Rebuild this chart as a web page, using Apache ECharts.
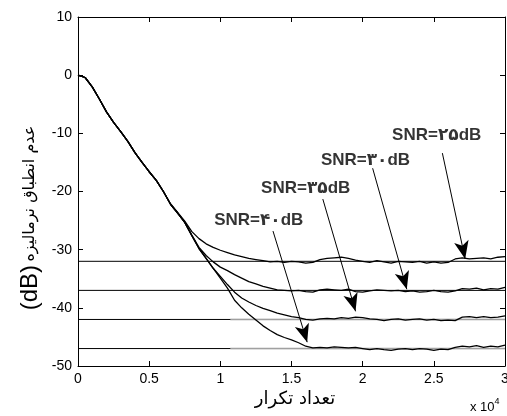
<!DOCTYPE html>
<html><head><meta charset="utf-8">
<script src="https://cdn.jsdelivr.net/npm/echarts@6/dist/echarts.min.js"></script>
<style>html,body{margin:0;padding:0;background:#fff}#c{width:507px;height:416px}</style>
</head><body><div id="c"></div>
<script>
// x values (×10^4 iterations)
const xs = [0,0.05,0.1,0.15,0.2,0.25,0.3,0.35,0.4,0.45,0.5,0.55,0.6,0.65,0.7,0.75,0.8,0.85,0.9,0.95,1.0,1.05,1.1,1.15,1.2,1.25,1.3,1.35,1.4,1.45,1.5,1.55,1.6,1.65,1.7,1.75,1.8,1.85,1.9,1.95,2.0,2.05,2.1,2.15,2.2,2.25,2.3,2.35,2.4,2.45,2.5,2.55,2.6,2.65,2.7,2.75,2.8,2.85,2.9,2.95,3.0];
const snr25 = [0,-0.4,-2.0,-4.1,-6.3,-8.1,-9.7,-11.4,-13.3,-15.0,-16.6,-18.1,-20.0,-22.1,-23.6,-25.1,-26.9,-28.1,-29.0,-29.6,-30.1,-30.5,-30.9,-31.2,-31.5,-31.7,-31.9,-32.1,-32.0,-32.2,-32.0,-32.1,-32.3,-32.2,-31.7,-31.5,-31.4,-31.3,-31.5,-31.8,-32.0,-32.2,-31.9,-32.1,-32.3,-32.0,-32.1,-32.2,-32.0,-32.3,-32.1,-32.3,-32.2,-31.6,-31.4,-31.6,-31.5,-31.4,-31.6,-31.3,-31.2];
const snr30 = [0,-0.4,-2.0,-4.1,-6.3,-8.1,-9.7,-11.4,-13.3,-15.0,-16.6,-18.1,-20.0,-22.2,-23.7,-25.3,-27.5,-29.6,-31.0,-32.1,-33.0,-33.6,-34.3,-34.9,-35.5,-35.9,-36.3,-36.6,-36.9,-37.0,-37.1,-37.0,-37.2,-37.3,-36.9,-36.8,-36.9,-37.0,-36.8,-37.2,-37.3,-37.1,-36.9,-37.0,-37.1,-37.0,-37.2,-37.1,-37.3,-37.2,-37.0,-37.2,-37.3,-37.1,-36.7,-36.8,-36.6,-36.9,-36.7,-36.8,-36.5];
const snr35 = [0,-0.4,-2.0,-4.1,-6.3,-8.1,-9.7,-11.4,-13.3,-15.0,-16.6,-18.1,-20.0,-22.2,-23.7,-25.3,-27.6,-29.8,-31.5,-33.2,-34.6,-36.0,-37.3,-38.3,-39.0,-39.6,-40.1,-40.5,-40.9,-41.2,-41.5,-41.7,-42.0,-42.1,-41.9,-41.8,-41.9,-41.7,-41.8,-41.6,-41.7,-41.9,-42.0,-42.2,-42.0,-41.9,-42.1,-42.0,-41.9,-42.1,-42.0,-42.2,-42.1,-42.2,-41.6,-41.5,-41.7,-41.5,-41.7,-41.6,-41.4];
const snr40 = [0,-0.4,-2.0,-4.1,-6.3,-8.1,-9.7,-11.4,-13.3,-15.0,-16.6,-18.1,-20.0,-22.2,-23.7,-25.3,-27.6,-29.8,-31.5,-33.2,-34.9,-36.6,-38.7,-40.0,-41.1,-42.1,-43.1,-43.9,-44.6,-45.1,-45.5,-46.0,-46.6,-46.9,-46.8,-46.9,-46.7,-46.8,-46.9,-46.8,-47.0,-47.2,-47.0,-47.2,-47.3,-47.1,-47.0,-47.2,-47.0,-47.1,-47.3,-47.1,-47.2,-46.8,-46.6,-46.7,-46.5,-46.8,-46.6,-46.7,-46.4];
const levels = [-32, -37, -42, -47];
const grayLevels = [-42, -47];
const grayStart = 1.07;
const labels = ['SNR=۲۵dB', 'SNR=۳۰dB', 'SNR=۳۵dB', 'SNR=۴۰dB'];
const labelPos = [[2.52,-10.4],[2.02,-14.7],[1.60,-19.5],[1.27,-25.0]];
const arrowStart = [[2.56,-13.4],[2.07,-16.0],[1.72,-21.3],[1.37,-26.8]];
const arrowEnd = [[2.72,-31.6],[2.31,-36.8],[1.95,-40.6],[1.61,-45.9]];
const xTicks = [0,0.5,1,1.5,2,2.5,3];
const yTicks = [-50,-40,-30,-20,-10,0,10];

const chart = echarts.init(document.getElementById('c'));
const F = "'Liberation Sans','DejaVu Sans',sans-serif";
const AF = "'DejaVu Sans',sans-serif";
const curves = [snr25, snr30, snr35, snr40];
const series = [];
levels.forEach(l => series.push({type:'line', data:[[xTicks[0], l],[xTicks[xTicks.length-1], l]], showSymbol:false, silent:true, lineStyle:{color:'#000', width:1}, z:2}));
grayLevels.forEach(l => series.push({type:'line', data:[[grayStart, l],[xTicks[xTicks.length-1], l]], showSymbol:false, silent:true, lineStyle:{color:'#a0a0a0', width:1.5}, z:3}));
curves.forEach(c => series.push({type:'line', data:xs.map((x,i)=>[x,c[i]]), showSymbol:false, silent:true, lineStyle:{color:'#000', width:1.3}, z:4}));
series.push({type:'line', data:[], silent:true, z:5,
  markLine:{silent:true, symbol:['none','arrow'], symbolSize:[11,18], animation:false,
    lineStyle:{color:'#000', width:1, type:'solid'}, label:{show:false},
    data: arrowStart.map((s,i)=>[{coord:s},{coord:arrowEnd[i]}])}});
series.push({type:'scatter', symbolSize:0, silent:true, z:6,
  data: labels.map((t,i)=>({value:labelPos[i], name:t})),
  label:{show:true, position:'inside', formatter:'{b}', color:'#000', textBorderWidth:0, fontSize:17, fontWeight:'bold', fontFamily:F}});

const axisCommon = {
  axisLine:{show:true, onZero:false, lineStyle:{color:'#000', width:1}},
  axisTick:{show:true, inside:true, length:5, lineStyle:{color:'#000'}},
  splitLine:{show:false}
};
chart.setOption({
  animation:false,
  backgroundColor:'#fff',
  grid:{left:78, right:2, top:17, bottom:50, containLabel:false, outerBoundsMode:'none'},
  xAxis:[
    Object.assign({type:'value', min:xTicks[0], max:xTicks[xTicks.length-1], interval:0.5, position:'bottom',
      axisLabel:{color:'#000', fontSize:14, fontFamily:F, margin:6, hideOverlap:false}}, axisCommon),
    Object.assign({type:'value', min:xTicks[0], max:xTicks[xTicks.length-1], interval:0.5, position:'top',
      axisLabel:{show:false}}, axisCommon)
  ],
  yAxis:[
    Object.assign({type:'value', min:yTicks[0], max:yTicks[yTicks.length-1], interval:10, position:'left',
      axisLabel:{color:'#000', fontSize:14, fontFamily:F, margin:6}}, axisCommon),
    Object.assign({type:'value', min:yTicks[0], max:yTicks[yTicks.length-1], interval:10, position:'right',
      axisLabel:{show:false}}, axisCommon)
  ],
  graphic:[
    {type:'text', x:30, y:218, rotation:Math.PI/2, silent:true,
      style:{text:'{a|(dB)} {b|عدم انطباق نرمالیزه}', align:'center', verticalAlign:'middle',
        rich:{a:{fontSize:24, fontFamily:F, fill:'#000', fontWeight:'normal'}, b:{fontSize:16, fontFamily:AF, fill:'#000'}}}},
    {type:'text', x:295, y:399, silent:true,
      style:{text:'تعداد تکرار', fontSize:18, fontFamily:AF, fill:'#000', align:'center', verticalAlign:'middle'}},
    {type:'text', x:470, y:407, silent:true,
      style:{text:'{a|x 10}{b|4}', align:'left', verticalAlign:'middle',
        rich:{a:{fontSize:13, fontFamily:F, fill:'#000'}, b:{fontSize:9, fontFamily:F, fill:'#000', verticalAlign:'top', padding:[0,0,10,0]}}}}
  ],
  series: series
});
</script></body></html>
